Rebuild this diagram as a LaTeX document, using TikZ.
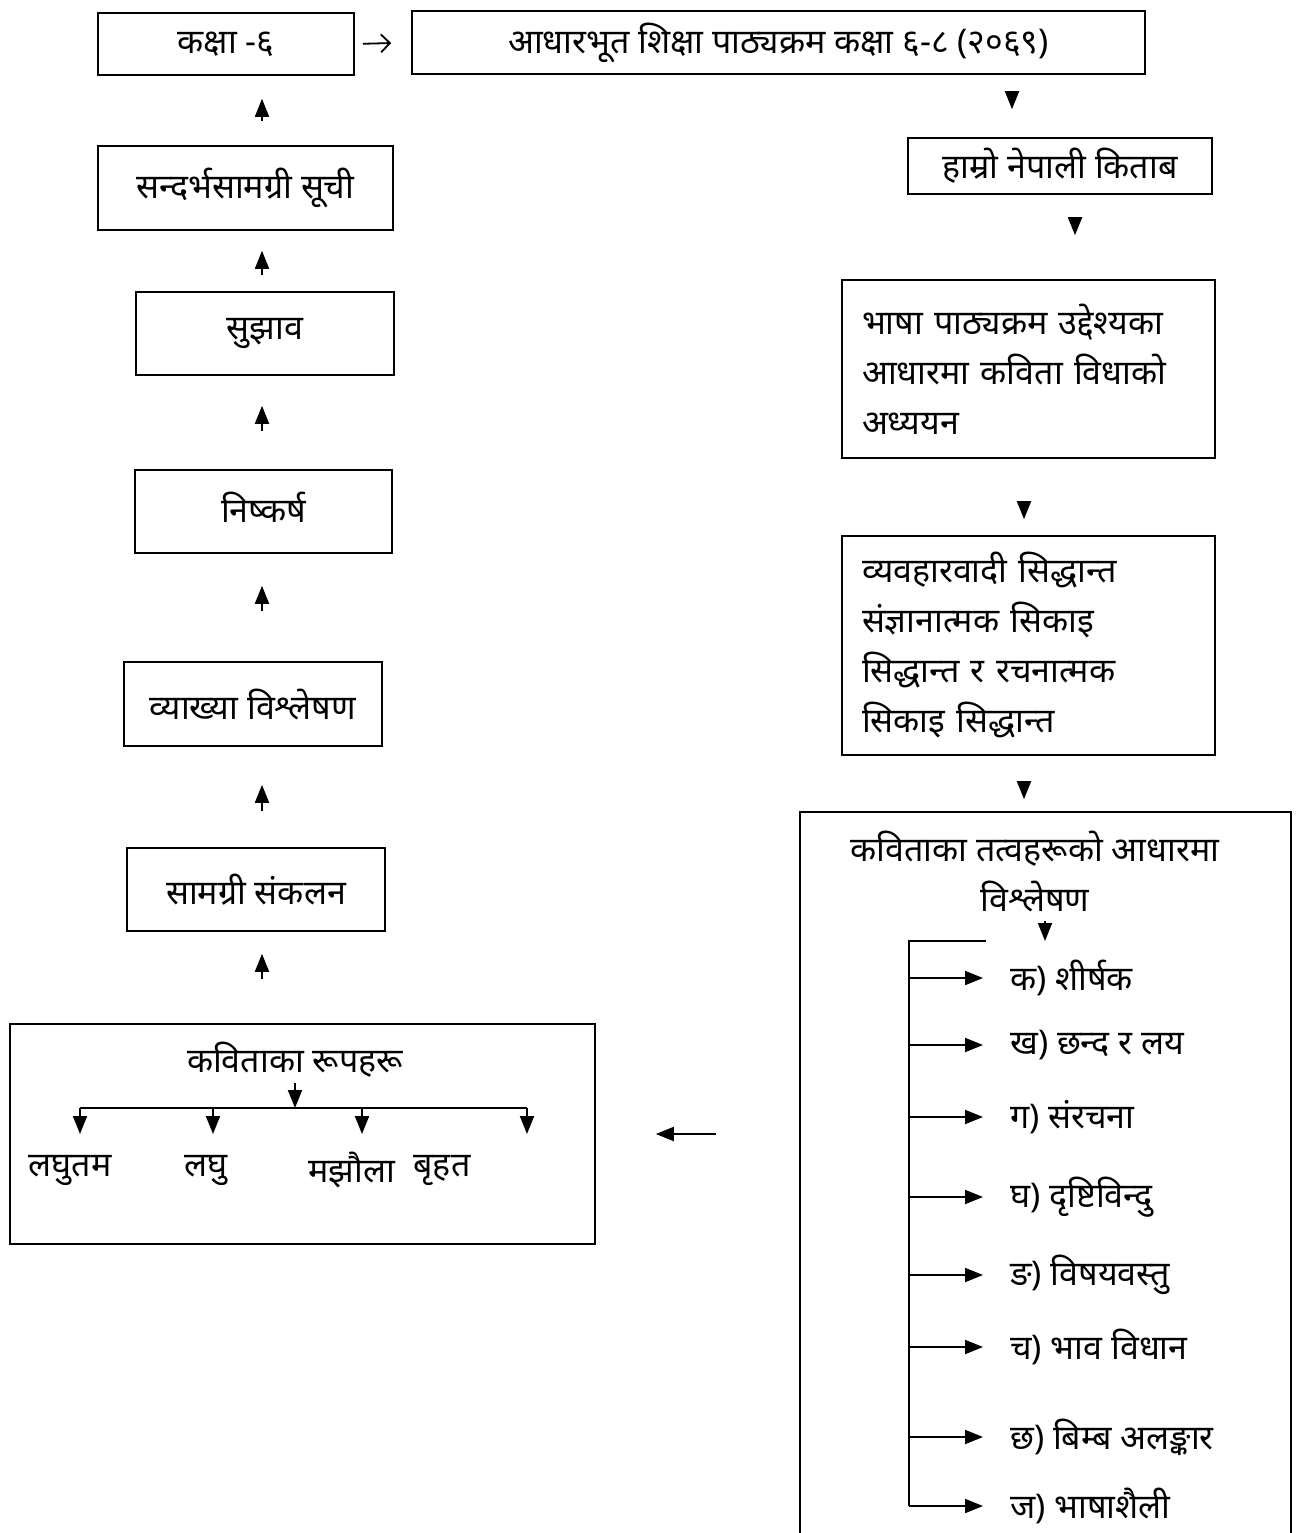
\documentclass[tikz,border=0pt]{standalone}
\usepackage{fontspec}
\setmainfont[Script=Devanagari]{Noto Sans}
\usetikzlibrary{arrows.meta,calc}
\newcommand{\fsz}{\fontsize{34pt}{50pt}\selectfont}
\begin{document}
\begin{tikzpicture}[x=1pt,y=-1pt,
  box/.style={draw, line width=1.6pt, inner sep=0pt, font=\fsz},
  arr/.style={line width=1.9pt, -{Triangle[length=18pt,width=14pt]}},
  ln/.style={line width=1.9pt},
  lbl/.style={inner sep=0pt, font=\fsz}]
\clip (0,0) rectangle (1297,1533);
\fill[white] (0,0) rectangle (1297,1533);
% top row
\node[box, minimum width=256pt, minimum height=62pt] (k6) at (226,44) {कक्षा -६};
\node[box, minimum width=733pt, minimum height=63pt] (aadhar) at (778.5,42.5) {आधारभूत शिक्षा पाठ्यक्रम कक्षा ६-८ (२०६९)};
\draw[line width=1.8pt, -{Straight Barb[length=9pt,width=18pt]}, shorten <=8pt, shorten >=20pt] (k6.east) -- (aadhar.west);
% right column
\node[box, minimum width=304pt, minimum height=56pt] (hamro) at (1060,166) {हाम्रो नेपाली किताब};
\node[box, minimum width=373pt, minimum height=178pt, text width=333pt, align=left] (bhasha) at (1028.5,369) {भाषा पाठ्यक्रम उद्देश्यका\\आधारमा कविता विधाको\\अध्ययन};
\node[box, minimum width=373pt, minimum height=219pt, text width=333pt, align=left] (vyav) at (1028.5,645.5) {व्यवहारवादी सिद्धान्त\\संज्ञानात्मक सिकाइ\\सिद्धान्त र रचनात्मक\\सिकाइ सिद्धान्त};
\node[box, minimum width=491pt, minimum height=760pt] (big) at (1045.5,1192) {};
\node[lbl, align=center] (bigt) at (1035,871) {कविताका तत्वहरूको आधारमा\\विश्लेषण};
\coordinate (c1) at (1012,0);
\coordinate (c2) at (1075,0);
\coordinate (c3) at (1024,0);
\draw[arr, shorten <=19pt, shorten >=28pt] (aadhar.south -| c1) -- (hamro.north -| c1);
\draw[arr, shorten <=24pt, shorten >=44pt] (hamro.south -| c2) -- (bhasha.north -| c2);
\draw[arr, shorten <=45pt, shorten >=16pt] (bhasha.south -| c3) -- (vyav.north -| c3);
\draw[arr, shorten <=28pt, shorten >=12pt] (vyav.south -| c3) -- (big.north -| c3);
% element list
\coordinate (ts) at (1045,921);
\coordinate (te) at (1045,941);
\draw[arr] (ts) -- (te);
\coordinate (tt) at (909,941);
\coordinate (tr) at (986,941);
\coordinate (tb) at (909,1506);
\draw[ln] (tr) -- (tt) -- (tb);
\node[lbl, anchor=west] (e1) at (1010,978) {क) शीर्षक};
\node[lbl, anchor=west] (e2) at (1010,1045) {ख) छन्द र लय};
\node[lbl, anchor=west] (e3) at (1010,1117) {ग) संरचना};
\node[lbl, anchor=west] (e4) at (1010,1197) {घ) दृष्टिविन्दु};
\node[lbl, anchor=west] (e5) at (1010,1275) {ङ) विषयवस्तु};
\node[lbl, anchor=west] (e6) at (1010,1347) {च) भाव विधान};
\node[lbl, anchor=west] (e7) at (1010,1437) {छ) बिम्ब अलङ्कार};
\node[lbl, anchor=west] (e8) at (1010,1506) {ज) भाषाशैली};
\foreach \e in {e1,e2,e3,e4,e5,e6,e7,e8}
  \draw[arr, shorten >=27pt] (tt |- \e.west) -- (\e.west);
% left column
\node[box, minimum width=295pt, minimum height=84pt] (sand) at (245.5,188) {सन्दर्भसामग्री सूची};
\node[box, minimum width=258pt, minimum height=83pt] (sujh) at (265,333.5) {सुझाव};
\node[box, minimum width=257pt, minimum height=83pt] (nish) at (263.5,511.5) {\raisebox{8pt}{निष्कर्ष}};
\node[box, minimum width=258pt, minimum height=84pt] (vyak) at (253,704) {व्याख्या विश्लेषण};
\node[box, minimum width=258pt, minimum height=83pt] (sama) at (256,889.5) {सामग्री संकलन};
\node[box, minimum width=585pt, minimum height=220pt] (rup) at (302.5,1134) {};
\coordinate (cl) at (262,0);
\draw[arr, shorten <=24pt, shorten >=23pt] (sand.north -| cl) -- (k6.south -| cl);
\draw[arr, shorten <=16pt, shorten >=20pt] (sujh.north -| cl) -- (sand.south -| cl);
\draw[arr, shorten <=38pt, shorten >=30pt] (nish.north -| cl) -- (sujh.south -| cl);
\draw[arr, shorten <=50pt, shorten >=32pt] (vyak.north -| cl) -- (nish.south -| cl);
\draw[arr, shorten <=36pt, shorten >=38pt] (sama.north -| cl) -- (vyak.south -| cl);
\draw[arr, shorten <=44pt, shorten >=22pt] (rup.north -| cl) -- (sama.south -| cl);
% forms box content
\node[lbl] (rupt) at (295,1060) {कविताका रूपहरू};
\coordinate (rs) at (295,1083);
\coordinate (rj) at (295,1108);
\draw[arr] (rs) -- (rj);
\coordinate (d1) at (80,1108);
\coordinate (d2) at (213,1108);
\coordinate (d3) at (362,1108);
\coordinate (d4) at (527,1108);
\draw[ln] (d1) -- (d4);
\node[lbl] (l1) at (70,1170) {लघुतम};
\node[lbl] (l2) at (206,1170) {लघु};
\node[lbl] (l3) at (352,1170) {मझौला};
\node[lbl] (l4) at (442,1170) {बृहत};
\foreach \d in {d1,d2,d3,d4}
  \draw[arr] (\d) -- ++(0,26);
% connector between big box and forms box
\coordinate (hy) at (0,1134);
\draw[arr, shorten <=83pt, shorten >=60pt] (big.west |- hy) -- (rup.east |- hy);
\end{tikzpicture}
\end{document}
